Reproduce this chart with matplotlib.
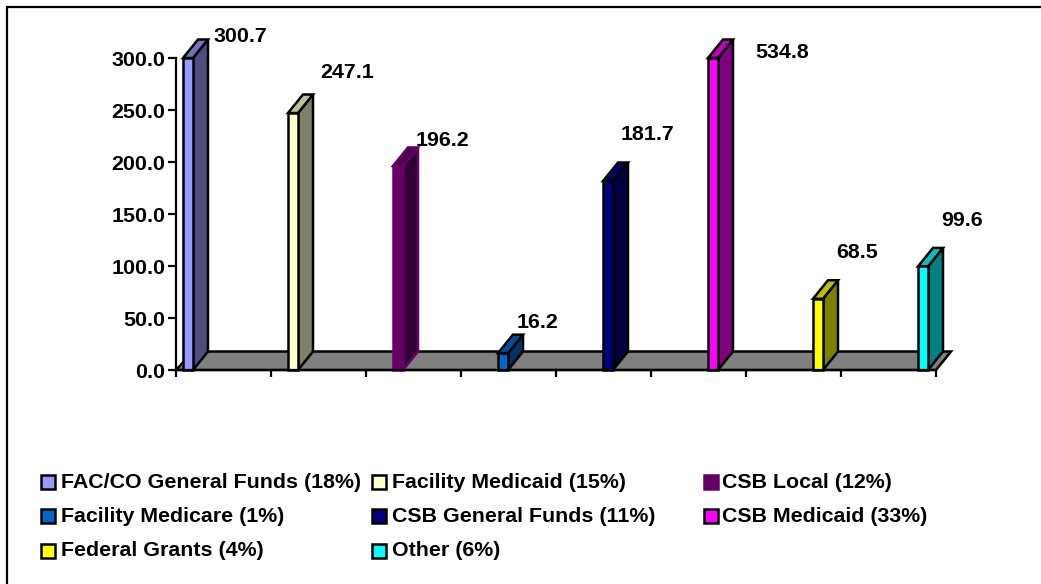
import matplotlib
matplotlib.use("Agg")
import matplotlib.pyplot as plt
from matplotlib.patches import Polygon, Rectangle
from matplotlib.colors import to_rgb

categories = ["FAC/CO General Funds (18%)", "Facility Medicaid (15%)", "CSB Local (12%)",
              "Facility Medicare (1%)", "CSB General Funds (11%)", "CSB Medicaid (33%)",
              "Federal Grants (4%)", "Other (6%)"]
values = [300.7, 247.1, 196.2, 16.2, 181.7, 534.8, 68.5, 99.6]
value_labels = ["300.7", "247.1", "196.2", "16.2", "181.7", "534.8", "68.5", "99.6"]
y_ticks = [0, 50, 100, 150, 200, 250, 300]
y_tick_labels = ["0.0", "50.0", "100.0", "150.0", "200.0", "250.0", "300.0"]

colors = ["#9999FF", "#FFFFCC", "#660066", "#0066CC", "#000080", "#FF00FF", "#FFFF00", "#00FFFF"]
edges = ["black", "black", "#660066", "black", "black", "black", "black", "black"]
label_px = [(240, 37), (347, 73), (442, 141), (538, 322), (648, 135), (782, 52), (857, 252), (962, 221)]
legend_swatch_x = [41, 372, 704]
legend_text_x = [61, 392, 722]
legend_rows = [482, 516, 551]

W, H = 1041, 584
plt.rcParams["font.family"] = "Liberation Sans"
plt.rcParams["font.weight"] = "bold"
fig = plt.figure(figsize=(W / 100, H / 100), dpi=100, facecolor="white")

X0, X1, Y0, Y1 = 176, 936, 370, 58
ax = fig.add_axes([X0 / W, 1 - Y0 / H, (X1 - X0) / W, (Y0 - Y1) / H])
ax.set_xlim(0, 8)
ax.set_ylim(0, 300)
ax.patch.set_alpha(0)
for s in ("top", "right"):
    ax.spines[s].set_visible(False)
for s in ("left", "bottom"):
    ax.spines[s].set_linewidth(1.6)
    ax.spines[s].set_zorder(20)
ax.set_yticks(y_ticks)
ax.set_yticklabels(y_tick_labels, fontsize=15.4, fontweight="bold")
ax.set_xticks(range(9))
ax.set_xticklabels([])
ax.tick_params(axis="y", length=6, width=1.6, pad=1.5, direction="out")
ax.tick_params(axis="x", length=5, width=1.6, direction="out")

PX = 95
PY = (Y0 - Y1) / 300
DX, DY = 15 / PX, 18.5 / PY
BAR_W = 10 / PX
BAR_START, BAR_STEP = 7 / PX, 105 / PX


def dark(c, f):
    return tuple(v * f for v in to_rgb(c))


def poly(pts, fc, ec, z):
    ax.add_patch(Polygon(pts, closed=True, fc=fc, ec=ec, lw=1.8, zorder=z, clip_on=False, joinstyle="miter"))


# floor
poly([(0, 0), (DX + 2 / PX, DY), (8 + DX, DY), (8, 0)], "#808080", "black", 1)
for i, (v, c, e) in enumerate(zip(values, colors, edges)):
    h = min(v, 300)
    x = BAR_START + i * BAR_STEP
    z = 3 + i
    poly([(x + BAR_W, 0), (x + BAR_W + DX, DY), (x + BAR_W + DX, h + DY), (x + BAR_W, h)], dark(c, 0.5), e, z)
    poly([(x, h), (x + BAR_W, h), (x + BAR_W + DX, h + DY), (x + DX, h + DY)], dark(c, 0.75), e, z)
    poly([(x, 0), (x + BAR_W, 0), (x + BAR_W, h), (x, h)], c, e, z)

ov = fig.add_axes([0, 0, 1, 1], facecolor="none")
ov.set_xlim(0, W)
ov.set_ylim(H, 0)
ov.axis("off")
ov.plot([W, 6.5, 6.5], [6.5, 6.5, H], color="black", lw=1.6, solid_joinstyle="miter")
for (x, y), t in zip(label_px, value_labels):
    ov.text(x, y, t, ha="center", va="center", fontsize=15.4, fontweight="bold")

for i, (name, c, e) in enumerate(zip(categories, colors, edges)):
    r = legend_rows[i // 3]
    ov.add_patch(Rectangle((legend_swatch_x[i % 3], r - 7), 14, 14, fc=c, ec=e, lw=1.8))
    ov.text(legend_text_x[i % 3], r, name, ha="left", va="center", fontsize=15.4, fontweight="bold")

fig.savefig("out.png", dpi=100)
